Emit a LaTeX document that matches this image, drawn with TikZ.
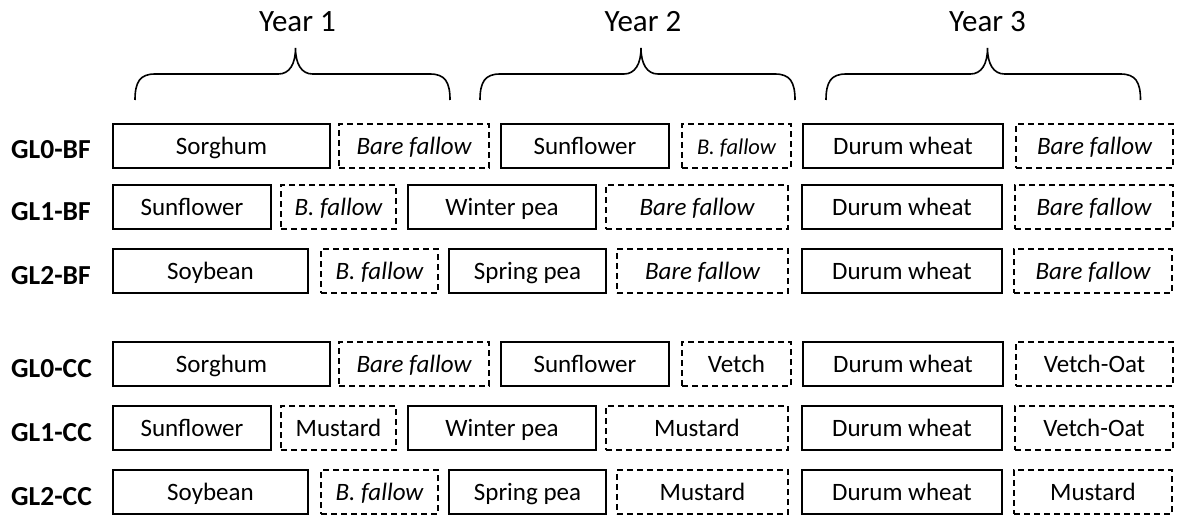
\documentclass[tikz,border=0pt]{standalone}
\usepackage{fontspec}
\setmainfont{Carlito}
\newcommand\bx[6]{\node[#2, minimum width={#4-#3}, minimum height=44] (#1) at ({(#3+#4)/2},#5) {#6};}
\newcommand\ybrace[3]{\draw[bracestyle] (#1,100) .. controls (#1,82) and ({#1+5},74) .. ({#1+20},74) -- ({#2-17},74) .. controls ({#2-6},74) and (#2,64) .. (#2,48) .. controls (#2,64) and ({#2+6},74) .. ({#2+17},74) -- ({#3-20},74) .. controls ({#3-5},74) and (#3,82) .. (#3,100);}
\tikzset{
  solidbox/.style={draw, line width=1.6pt, inner sep=0pt, font=\fontsize{25}{30}\selectfont, text height=16pt, text depth=0pt},
  dashbox/.style={solidbox, dash pattern=on 6pt off 4pt},
  fallow/.style={dashbox, font=\fontsize{25}{30}\selectfont\itshape},
  sfallow/.style={dashbox, font=\fontsize{22.5}{27}\selectfont\itshape},
  lab/.style={anchor=base west, inner sep=0pt, font=\fontsize{27.5}{32}\selectfont\bfseries},
  yr/.style={anchor=base, inner sep=0pt, font=\fontsize{31}{36}\selectfont},
  bracestyle/.style={line width=1.6pt}
}
\begin{document}
\begin{tikzpicture}[x=1pt,y=-1pt]
\useasboundingbox (0,0) rectangle (1178,516);
% years
\node[yr] (y1) at (297.5,32) {Year 1};
\node[yr] (y2) at (643,32) {Year 2};
\node[yr] (y3) at (987.5,32) {Year 3};
\ybrace{135}{295.5}{450}
\ybrace{480}{641}{795}
\ybrace{826}{987.5}{1140.5}
% labels
\node[lab] (l1) at (11,159) {GL0-BF};
\node[lab] (l2) at (11,220) {GL1-BF};
\node[lab] (l3) at (11,284) {GL2-BF};
\node[lab] (l4) at (11,377) {GL0-CC};
\node[lab] (l5) at (11,441) {GL1-CC};
\node[lab] (l6) at (11,505) {GL2-CC};
% row 1 GL0-BF
\bx{a1}{solidbox}{113}{330}{146}{Sorghum}
\bx{a2}{fallow}{339}{489}{146}{Bare fallow}
\bx{a3}{solidbox}{501}{669}{146}{Sunflower}
\bx{a4}{sfallow}{682}{791}{146}{B. fallow}
\bx{a5}{solidbox}{803}{1003}{146}{Durum wheat}
\bx{a6}{fallow}{1016}{1173}{146}{Bare fallow}
% row 2 GL1-BF
\bx{b1}{solidbox}{113}{271}{207}{Sunflower}
\bx{b2}{fallow}{281}{396}{207}{B. fallow}
\bx{b3}{solidbox}{408}{596}{207}{Winter pea}
\bx{b4}{fallow}{606}{788}{207}{Bare fallow}
\bx{b5}{solidbox}{802}{1002}{207}{Durum wheat}
\bx{b6}{fallow}{1015}{1173}{207}{Bare fallow}
% row 3 GL2-BF
\bx{c1}{solidbox}{113}{308}{271}{Soybean}
\bx{c2}{fallow}{321}{438}{271}{B. fallow}
\bx{c3}{solidbox}{449}{606}{271}{Spring pea}
\bx{c4}{fallow}{617}{788}{271}{Bare fallow}
\bx{c5}{solidbox}{802}{1002}{271}{Durum wheat}
\bx{c6}{fallow}{1014}{1172}{271}{Bare fallow}
% row 4 GL0-CC
\bx{d1}{solidbox}{113}{330}{364}{Sorghum}
\bx{d2}{fallow}{339}{489}{364}{Bare fallow}
\bx{d3}{solidbox}{501}{669}{364}{Sunflower}
\bx{d4}{dashbox}{682}{791}{364}{Vetch}
\bx{d5}{solidbox}{803}{1003}{364}{Durum wheat}
\bx{d6}{dashbox}{1016}{1173}{364}{Vetch-Oat}
% row 5 GL1-CC
\bx{e1}{solidbox}{113}{271}{428}{Sunflower}
\bx{e2}{dashbox}{281}{396}{428}{Mustard}
\bx{e3}{solidbox}{408}{596}{428}{Winter pea}
\bx{e4}{dashbox}{606}{788}{428}{Mustard}
\bx{e5}{solidbox}{802}{1002}{428}{Durum wheat}
\bx{e6}{dashbox}{1015}{1173}{428}{Vetch-Oat}
% row 6 GL2-CC
\bx{f1}{solidbox}{113}{308}{492}{Soybean}
\bx{f2}{fallow}{321}{438}{492}{B. fallow}
\bx{f3}{solidbox}{449}{606}{492}{Spring pea}
\bx{f4}{dashbox}{617}{788}{492}{Mustard}
\bx{f5}{solidbox}{802}{1002}{492}{Durum wheat}
\bx{f6}{dashbox}{1014}{1172}{492}{Mustard}
\end{tikzpicture}
\end{document}
